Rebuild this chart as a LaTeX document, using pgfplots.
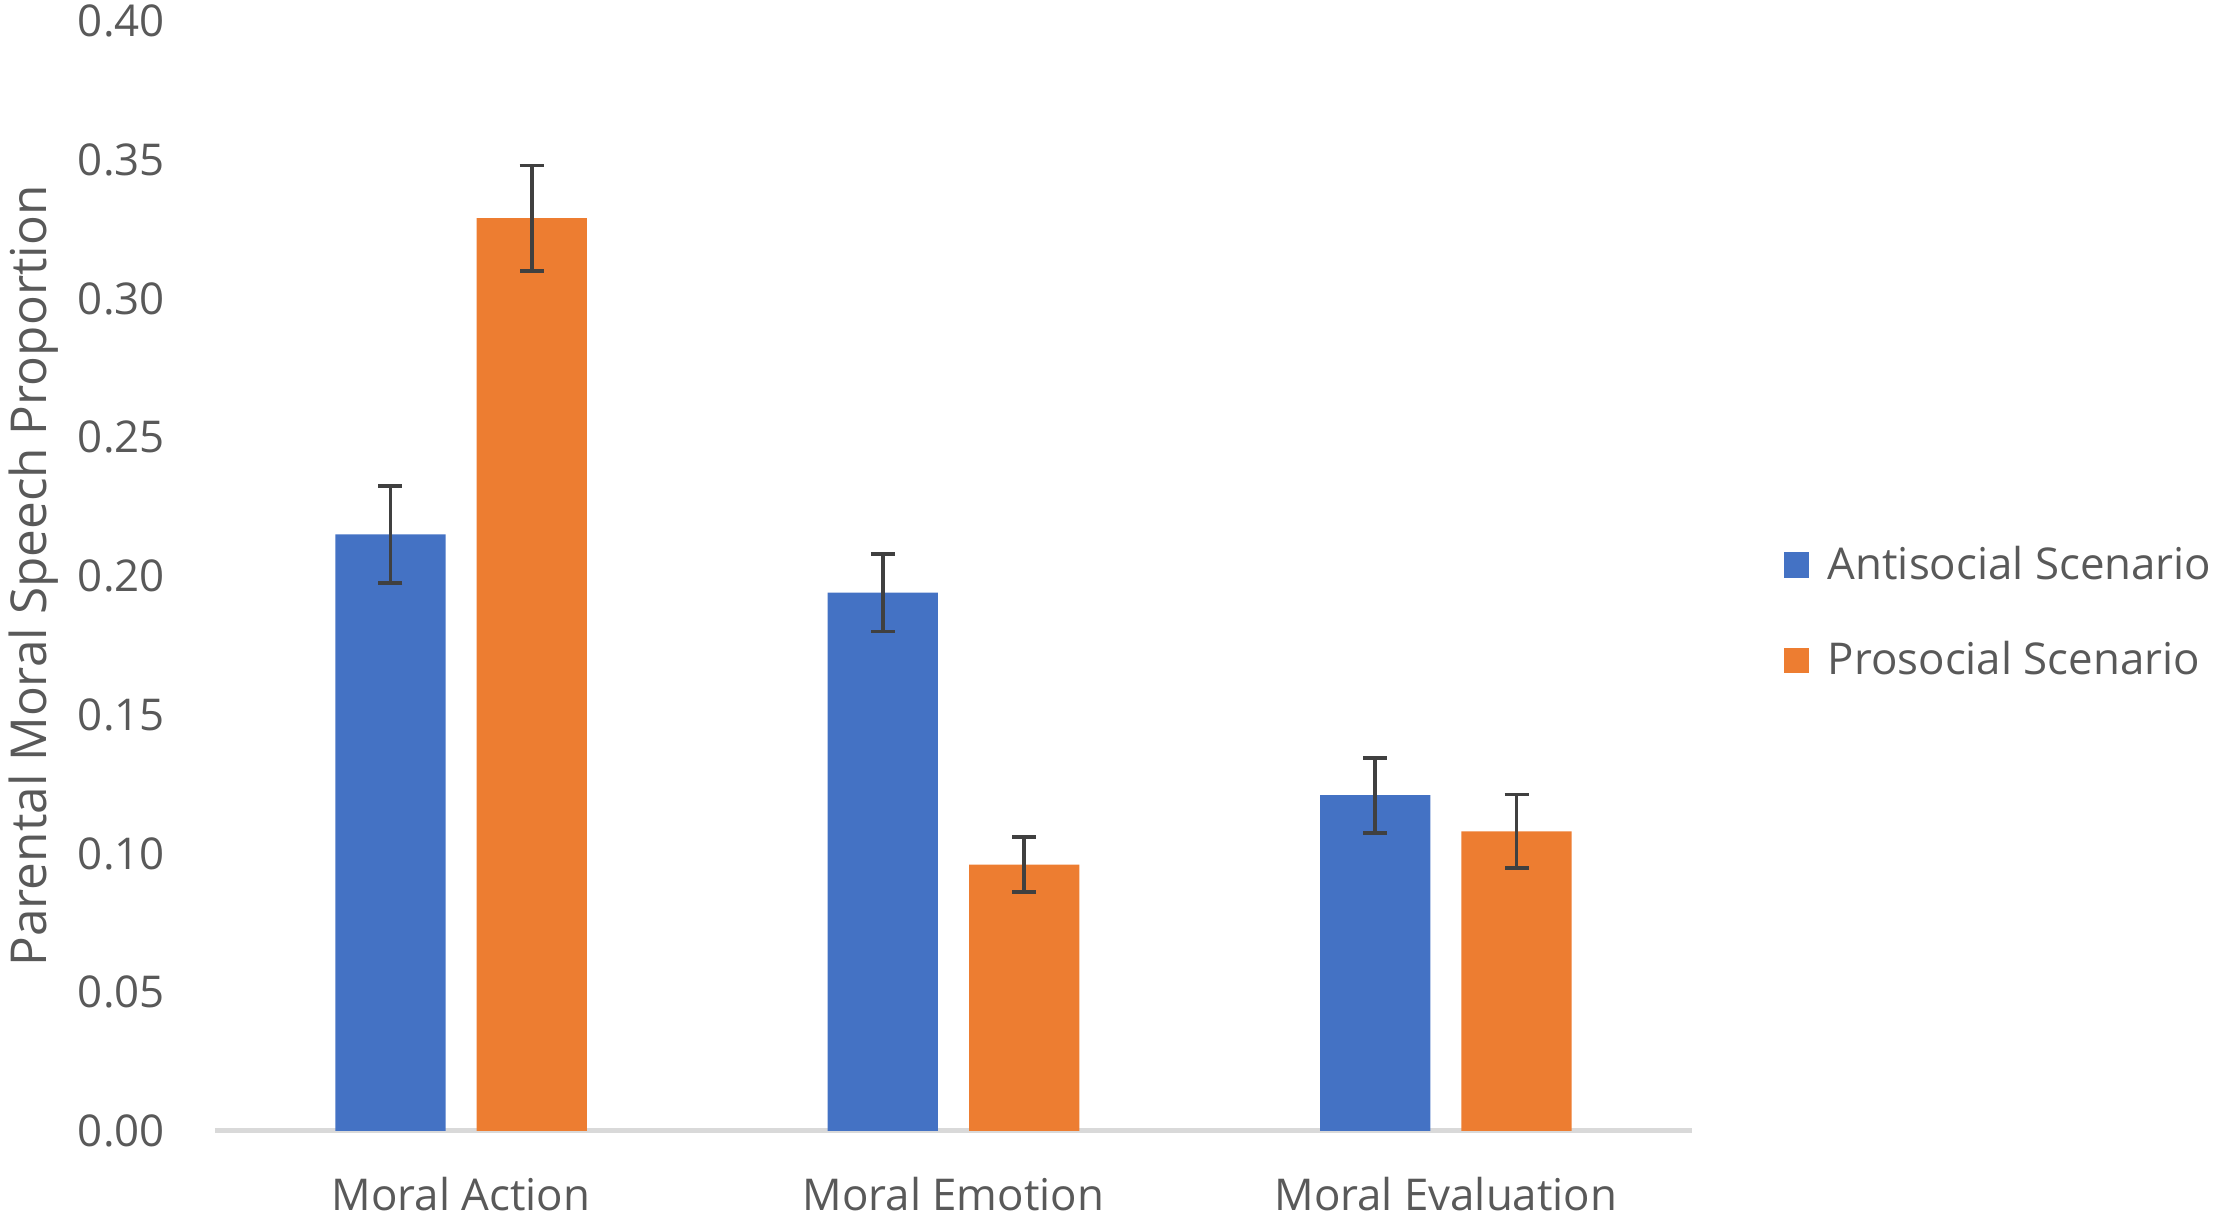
\documentclass[border=0pt]{standalone}
\usepackage{fontspec}
\setmainfont{Open Sans}
\usepackage{pgfplots}
\pgfplotsset{compat=1.18}
\definecolor{cblue}{HTML}{4472C4}
\definecolor{corange}{HTML}{ED7D31}
\definecolor{ctext}{HTML}{595959}
\definecolor{caxis}{HTML}{D9D9D9}
\definecolor{cerr}{HTML}{404040}
\newcommand{\chartfont}{\fontsize{15.5}{18}\selectfont}
\begin{document}
\begin{tikzpicture}
\begin{axis}[
  scale only axis, width=522.5pt, height=392.5pt,
  xmin=-0.5, xmax=2.5, ymin=0, ymax=0.40,
  ybar, bar width=39pt,
  axis x line=bottom, axis y line=left,
  x axis line style={draw=caxis, line width=1.75pt, -},
  y axis line style={draw=none},
  tick style={draw=none}, major tick length=0pt,
  xtick={0,1,2},
  xticklabels={Moral Action, Moral Emotion, Moral Evaluation},
  ytick={0,0.05,0.10,0.15,0.20,0.25,0.30,0.35,0.40},
  /pgf/number format/assume math mode=true,
  tick label style={font=\chartfont, color=ctext, inner sep=0pt},
  yticklabel style={/pgf/number format/fixed, /pgf/number format/fixed zerofill, /pgf/number format/precision=2, anchor=east, xshift=-17.5pt},
  xticklabel style={anchor=base, yshift=-28pt},
  ylabel={Parental Moral Speech Proportion},
  ylabel style={font=\fontsize{17.5}{20}\selectfont, color=ctext, inner sep=0pt, at={(axis description cs:-0.1225,0.5)}, anchor=center},
  legend style={draw=none, fill=none, font=\chartfont, text=ctext, inner sep=0pt, outer sep=0pt,
    at={(axis description cs:1.0622,0.467)}, anchor=west, row sep=16.5pt, column sep=4.5pt,
    cells={anchor=west}},
  legend image code/.code={\fill[#1] (0pt,-4.5pt) rectangle (9pt,4.5pt);},
  legend cell align=left,
  error bars/y dir=both, error bars/y explicit,
  error bars/error bar style={cerr, line width=1.3pt},
  error bars/error mark options={cerr, line width=1.3pt, mark size=4.25pt, rotate=90},
  clip=false,
]
\addplot[fill=cblue, draw=none, bar shift=-25pt] coordinates {
  (0,0.215) +- (0,0.0175)
  (1,0.194) +- (0,0.014)
  (2,0.121) +- (0,0.0135)
};
\addlegendentry{Antisocial Scenario}
\addplot[fill=corange, draw=none, bar shift=25pt] coordinates {
  (0,0.329) +- (0,0.019)
  (1,0.096) +- (0,0.010)
  (2,0.108) +- (0,0.0133)
};
\addlegendentry{Prosocial Scenario}
\end{axis}
\path (current axis.south east) ++(185.5pt,-31pt);
\path (current axis.north west) ++(-76pt,7.5pt);
\end{tikzpicture}
\end{document}
